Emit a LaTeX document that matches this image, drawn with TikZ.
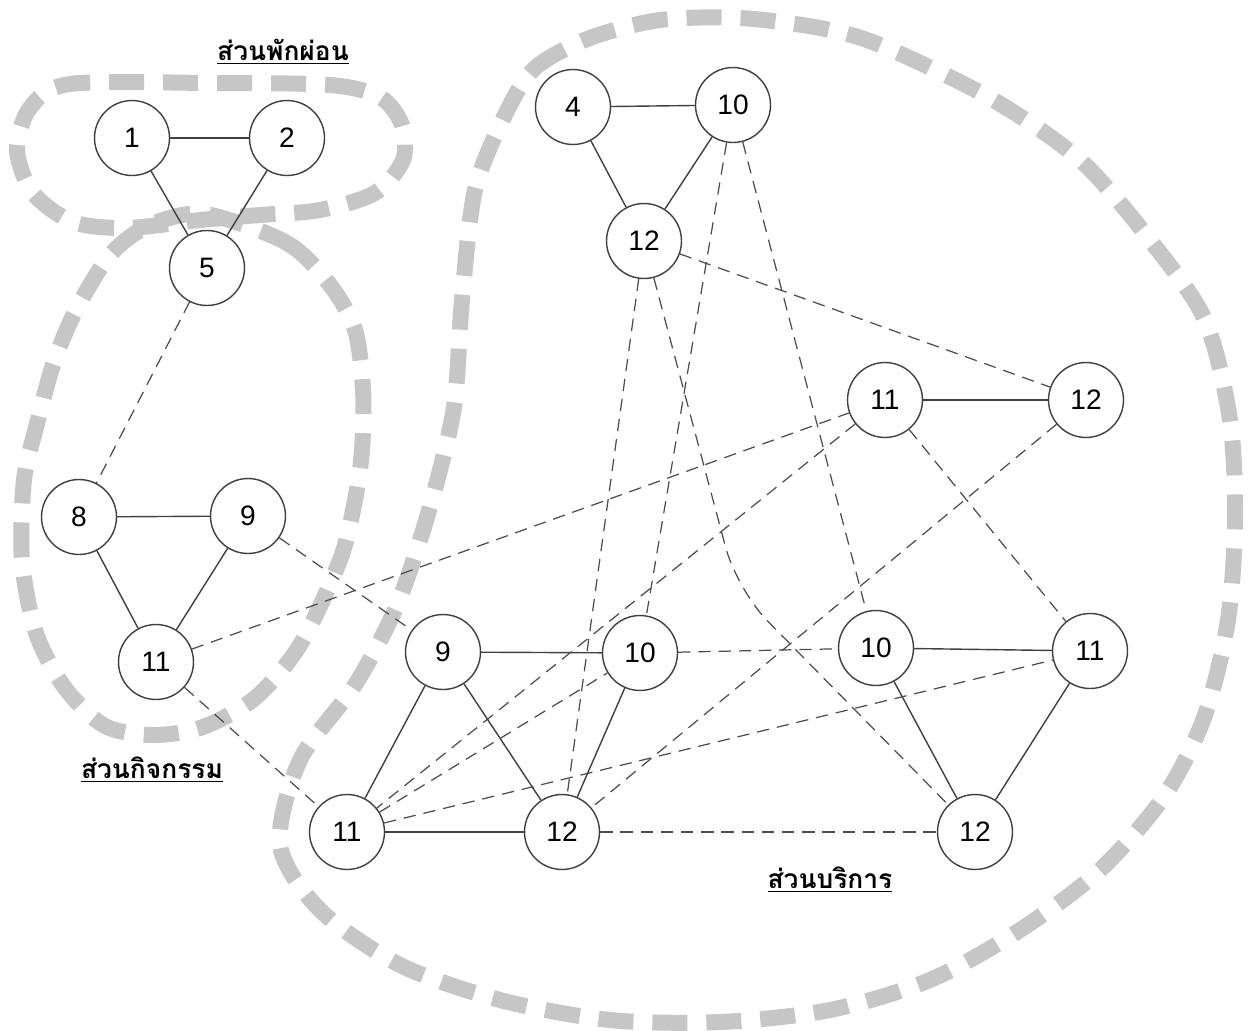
\documentclass[tikz,border=0pt]{standalone}
\usepackage{fontspec}
\setmainfont{Liberation Sans}
\newfontfamily\thaifont[Script=Thai]{Loma}
\begin{document}
\begin{tikzpicture}[x=0.02cm,y=-0.02cm,
  zone/.style={line width=0.32cm,gray!45,dash pattern=on 0.7cm off 0.38cm},
  room/.style={circle,draw=black!75,line width=0.8pt,minimum size=1.5cm,inner sep=0pt,font=\fontsize{16}{16}\selectfont},
  link/.style={black!75,line width=0.8pt},
  tie/.style={black!70,line width=0.7pt,dash pattern=on 7pt off 4.5pt},
  title/.style={font=\thaifont\bfseries\fontsize{15}{15}\selectfont}]

\useasboundingbox (0,0) rectangle (1251,1031);

\draw[zone] plot[smooth cycle] coordinates {(212,83) (330,85) (380,97) (402,125) (403,160) (375,193) (320,210) (260,215) (200,220) (127,228) (73,222) (33,193) (17,150) (30,108) (70,84)};

\draw[zone] plot[smooth cycle] coordinates {(205,214) (287,243) (330,285) (355,330) (363,390) (362,450) (355,500) (340,560) (300,645) (255,698) (203,727) (153,735) (105,726) (65,688) (36,633) (22,560) (24,480) (38,420) (53,365) (75,312) (110,255) (150,225)};

\draw[zone] plot[smooth cycle] coordinates {(505,115) (535,68) (590,38) (660,20) (740,18) (820,28) (880,45) (990,98) (1080,160) (1150,240) (1205,320) (1230,420) (1235,520) (1228,620) (1205,715) (1165,795) (1100,870) (1020,930) (930,980) (830,1010) (720,1022) (610,1020) (500,1000) (400,965) (320,910) (280,845) (300,760) (355,685) (395,610) (420,540) (440,470) (455,400) (462,300) (475,190)};

\node[title] (restlabel) at (283,52) {\underline{ส่วนพักผ่อน}};
\node[title] (actlabel) at (152,770) {\underline{ส่วนกิจกรรม}};
\node[title] (servlabel) at (830,880) {\underline{ส่วนบริการ}};

\node[room] (r1) at (132,138) {1};
\node[room] (r2) at (287,138) {2};
\node[room] (r5) at (207,268) {5};

\node[room] (a8) at (79,517) {8};
\node[room] (a9) at (248,516) {9};
\node[room] (a11) at (156,662) {11};

\node[room] (s4) at (573,107) {4};
\node[room] (s10a) at (733,105) {10};
\node[room] (s12a) at (644,241) {12};
\node[room] (s11a) at (885,400) {11};
\node[room] (s12b) at (1086,400) {12};
\node[room] (s9) at (443,652) {9};
\node[room] (s10b) at (640,653) {10};
\node[room] (s10c) at (876,648) {10};
\node[room] (s11b) at (1090,651) {11};
\node[room] (s11c) at (347,832) {11};
\node[room] (s12c) at (562,832) {12};
\node[room] (s12d) at (975,832) {12};

\coordinate (kink) at (737,590);

\draw[link] (r1) -- (r2);
\draw[link] (r1) -- (r5);
\draw[link] (r2) -- (r5);

\draw[link] (a8) -- (a9);
\draw[link] (a8) -- (a11);
\draw[link] (a9) -- (a11);

\draw[link] (s4) -- (s10a);
\draw[link] (s4) -- (s12a);
\draw[link] (s10a) -- (s12a);
\draw[link] (s11a) -- (s12b);
\draw[link] (s9) -- (s10b);
\draw[link] (s9) -- (s11c);
\draw[link] (s9) -- (s12c);
\draw[link] (s11c) -- (s12c);
\draw[link] (s10b) -- (s12c);
\draw[link] (s10c) -- (s11b);
\draw[link] (s10c) -- (s12d);
\draw[link] (s11b) -- (s12d);

\draw[tie] (r5) -- (a8);
\draw[tie] (a9) -- (s9);
\draw[tie] (a11) -- (s11a);
\draw[tie] (a11) -- (s11c);

\draw[tie] (s10a) -- (s10b);
\draw[tie] (s10a) -- (s10c);
\draw[tie] (s12a) -- (s12b);
\draw[tie] (s12a) -- (s12c);
\draw[tie,rounded corners=25] (s12a) -- (kink) -- (s12d);
\draw[tie] (s11a) -- (s11b);
\draw[tie] (s11a) -- (s11c);
\draw[tie] (s12b) -- (s12c);
\draw[tie] (s10b) -- (s10c);
\draw[tie] (s11c) -- (s10b);
\draw[tie] (s11c) -- (s11b);
\draw[tie] (s12c) -- (s12d);
\end{tikzpicture}
\end{document}
